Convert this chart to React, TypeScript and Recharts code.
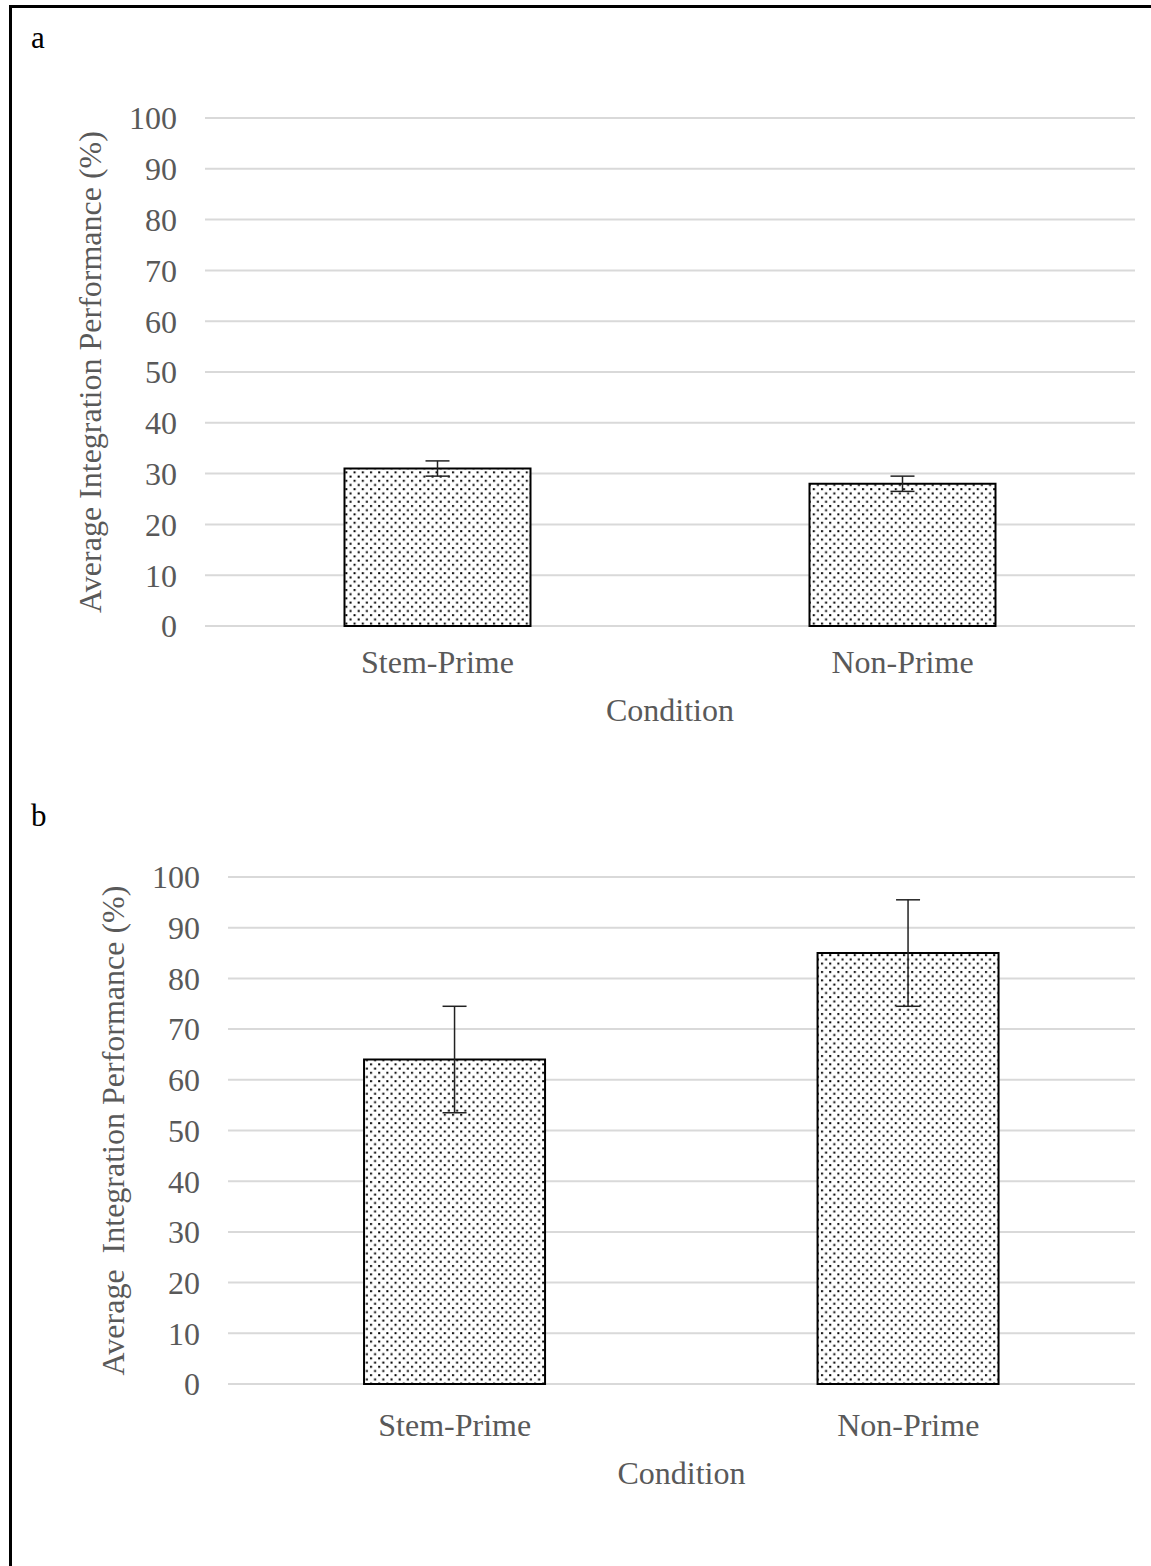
import React from 'react';
import { BarChart, Bar, XAxis, YAxis, CartesianGrid, ErrorBar, Label } from 'recharts';

const categories = ['Stem-Prime', 'Non-Prime'];
const aValues = [31, 28];
const aErrors = [1.5, 1.5];
const bValues = [64, 85];
const bErrors = [10.5, 10.5];
const yTicks = [0, 10, 20, 30, 40, 50, 60, 70, 80, 90, 100];
const yLabelA = 'Average Integration Performance (%)';
const yLabelB = 'Average  Integration Performance (%)';
const xLabel = 'Condition';

const dataA = categories.map((c, i) => ({ name: c, value: aValues[i], err: aErrors[i] }));
const dataB = categories.map((c, i) => ({ name: c, value: bValues[i], err: bErrors[i] }));

const FONT = '"Liberation Serif", "Times New Roman", serif';
const GRAY = '#595959';
const FS = 32;

const makeYLabel = (text: string, cx: number) => (props: any) => {
  const vb = props.viewBox || {};
  const cy = vb.y + vb.height / 2;
  return (
    <text
      x={cx}
      y={cy}
      transform={`rotate(-90, ${cx}, ${cy})`}
      textAnchor="middle"
      dominantBaseline="central"
      fill={GRAY}
      fontFamily={FONT}
      fontSize={FS}
      style={{ whiteSpace: 'pre' }}
    >
      {text}
    </text>
  );
};

const makeXLabel = (text: string, dy: number) => (props: any) => {
  const vb = props.viewBox || {};
  const cx = vb.x + vb.width / 2;
  return (
    <text
      x={cx}
      y={vb.y + dy}
      textAnchor="middle"
      dominantBaseline="central"
      fill={GRAY}
      fontFamily={FONT}
      fontSize={FS}
    >
      {text}
    </text>
  );
};

type PanelProps = {
  data: any[];
  top: number;
  height: number;
  margin: { top: number; right: number; left: number; bottom: number };
  yLabel: string;
  yLabelX: number;
  xTickMargin: number;
  xLabelDy: number;
};

const Panel = ({ data, top, height, margin, yLabel, yLabelX, xTickMargin, xLabelDy }: PanelProps) => (
  <div style={{ position: 'absolute', left: 0, top }}>
    <BarChart width={1151} height={height} data={data} margin={margin} barCategoryGap="30%">
      <CartesianGrid vertical={false} stroke="#d9d9d9" strokeWidth={2} />
      <XAxis
        dataKey="name"
        axisLine={false}
        tickLine={false}
        tickSize={0}
        tickMargin={xTickMargin}
        height={100}
        tick={{ fill: GRAY, fontFamily: FONT, fontSize: FS }}
      >
        <Label content={makeXLabel(xLabel, xLabelDy)} />
      </XAxis>
      <YAxis
        domain={[0, 100]}
        ticks={yTicks}
        interval={0}
        axisLine={false}
        tickLine={false}
        tickSize={0}
        tickMargin={28}
        width={100}
        tick={{ fill: GRAY, fontFamily: FONT, fontSize: FS }}
      >
        <Label content={makeYLabel(yLabel, yLabelX)} />
      </YAxis>
      <Bar dataKey="value" fill="url(#dots)" stroke="#000" strokeWidth={2} isAnimationActive={false}>
        <ErrorBar dataKey="err" width={12} stroke="#222" strokeWidth={1.5} />
      </Bar>
    </BarChart>
  </div>
);

export default function App() {
  return (
    <div style={{ position: 'absolute', left: 0, top: 0, width: 1151, height: 1566, background: '#fff', overflow: 'hidden' }}>
      <svg width={0} height={0} style={{ position: 'absolute' }}>
        <defs>
          <pattern id="dots" patternUnits="userSpaceOnUse" width={8.2} height={8.4}>
            <rect x={0} y={0} width={8.2} height={8.4} fill="#fff" />
            <rect x={1} y={1} width={2} height={2} fill="#000" />
            <rect x={5.1} y={5.2} width={2} height={2} fill="#000" />
          </pattern>
        </defs>
      </svg>
      <div
        style={{
          position: 'absolute',
          left: 9,
          top: 5,
          width: 1151,
          height: 1566,
          borderTop: '3px solid #000',
          borderLeft: '3px solid #000',
        }}
      />
      <div style={{ position: 'absolute', left: 31, top: 20, fontFamily: FONT, fontSize: 31, color: '#000' }}>a</div>
      <div style={{ position: 'absolute', left: 31, top: 798, fontFamily: FONT, fontSize: 31, color: '#000' }}>b</div>
      <Panel
        data={dataA}
        top={0}
        height={760}
        margin={{ top: 118, right: 16, left: 105, bottom: 34 }}
        yLabel={yLabelA}
        yLabelX={90}
        xTickMargin={24}
        xLabelDy={84}
      />
      <Panel
        data={dataB}
        top={760}
        height={806}
        margin={{ top: 117, right: 16, left: 128, bottom: 82 }}
        yLabel={yLabelB}
        yLabelX={113}
        xTickMargin={29}
        xLabelDy={89}
      />
    </div>
  );
}
